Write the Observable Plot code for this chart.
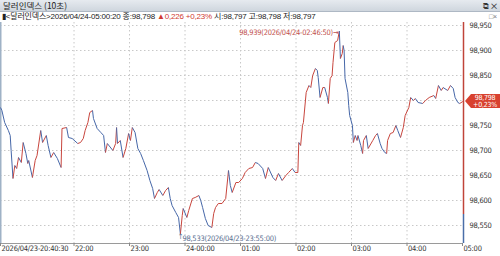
<!DOCTYPE html>
<html><head><meta charset="utf-8">
<script src="https://cdn.jsdelivr.net/npm/d3@7"></script>
<script src="https://cdn.jsdelivr.net/npm/@observablehq/plot@0.6"></script>
<style>
body{margin:0;width:500px;height:256px;overflow:hidden;background:#fff;font-family:"Noto Sans CJK KR","Liberation Sans",sans-serif;}
#title{height:11px;overflow:hidden;background:linear-gradient(#e6eaef,#cfd6de);border-bottom:1px solid #aeb8c4;font-size:8.5px;line-height:11px;padding-left:3px;color:#222;position:relative;}
#title .ic{position:absolute;right:3px;top:0;font-size:8px;line-height:11px;color:#333;}
#info{height:10px;overflow:hidden;font-size:8px;line-height:10px;padding-left:2px;white-space:nowrap;position:relative;color:#222;font-family:"Liberation Sans","Noto Sans CJK KR",sans-serif;letter-spacing:-0.2px;}
#info .up{color:#d03a30;}
#info .ic{position:absolute;right:3px;top:0;font-size:7px;line-height:10px;color:#777;}
#chart{height:234px;}
#chart svg text{letter-spacing:-0.25px;}
</style></head><body>
<div id="title">달러인덱스 (10초)<span class="ic">⧉ ✕</span></div>
<div id="info">▮&lt;달러인덱스&gt;2026/04/24-05:00:20 종:98,798 <span class="up">▲0,226 +0,23%</span> 시:98,797 고:98,798 저:98,797<span class="ic">□×</span></div>
<div id="chart"></div>
<script>
const times = ["20:40:30","20:42","20:45","20:49","20:51","20:52","20:54","20:56","20:58","21:00","21:03","21:05","21:08","21:10","21:11","21:15","21:18","21:20","21:24","21:26","21:30","21:32","21:35","21:38","21:42","21:46","21:47","21:52","21:54","21:58","22:04","22:07","22:10","22:12","22:15","22:17","22:20","22:21","22:25","22:29","22:32","22:34","22:36","22:42","22:45","22:46","22:47","22:50","22:53","22:56","22:59","23:01","23:03","23:06","23:09","23:12","23:15","23:19","23:22","23:25","23:27","23:30","23:32","23:36","23:39","23:42","23:44","23:46","23:50","23:53","23:55","23:57","23:58","00:02","00:04","00:08","00:11","00:15","00:17","00:19","00:22","00:25","00:29","00:31","00:33","00:36","00:40","00:44","00:47","00:49","00:51","00:55","00:58","01:02","01:05","01:09","01:13","01:16","01:19","01:24","01:27","01:30","01:35","01:38","01:41","01:45","01:49","01:52","01:56","01:59","02:02","02:03","02:05","02:07","02:08","02:11","02:14","02:16","02:18","02:21","02:23","02:24","02:26","02:29","02:31","02:34","02:35","02:37","02:39","02:40","02:42","02:45","02:46:50","02:48","02:50","02:51","02:52","02:53","02:56","02:57","02:58","03:01","03:02","03:04","03:06","03:07","03:10","03:12","03:13","03:16","03:18","03:23","03:26","03:28","03:31","03:33","03:36","03:38","03:39","03:42","03:45","03:48","03:50","03:53","03:56","03:58","04:02","04:04","04:07","04:09","04:12","04:17","04:20","04:24","04:29","04:31","04:34","04:37","04:39","04:44","04:47","04:50","04:52","04:55","04:57","05:00:20"];
const values = [98.786,98.780,98.756,98.740,98.730,98.700,98.644,98.670,98.664,98.686,98.676,98.716,98.694,98.674,98.680,98.646,98.680,98.690,98.740,98.716,98.730,98.710,98.686,98.696,98.684,98.666,98.744,98.746,98.726,98.724,98.714,98.716,98.724,98.740,98.756,98.776,98.780,98.764,98.744,98.736,98.730,98.696,98.714,98.700,98.714,98.746,98.714,98.720,98.686,98.704,98.734,98.720,98.746,98.736,98.704,98.694,98.680,98.660,98.640,98.624,98.604,98.616,98.622,98.610,98.620,98.626,98.604,98.590,98.576,98.566,98.533,98.570,98.584,98.566,98.580,98.604,98.606,98.610,98.600,98.586,98.564,98.550,98.546,98.574,98.586,98.594,98.594,98.604,98.660,98.630,98.616,98.636,98.636,98.644,98.656,98.664,98.666,98.676,98.674,98.664,98.644,98.666,98.646,98.640,98.654,98.640,98.650,98.656,98.664,98.656,98.656,98.716,98.710,98.750,98.756,98.816,98.830,98.826,98.850,98.864,98.860,98.846,98.806,98.826,98.826,98.806,98.794,98.844,98.850,98.876,98.916,98.920,98.939,98.884,98.894,98.910,98.900,98.844,98.816,98.790,98.770,98.750,98.716,98.730,98.720,98.730,98.710,98.694,98.720,98.730,98.704,98.720,98.730,98.734,98.714,98.704,98.696,98.694,98.720,98.734,98.736,98.750,98.740,98.726,98.746,98.770,98.786,98.806,98.800,98.804,98.796,98.794,98.800,98.806,98.810,98.804,98.830,98.820,98.826,98.820,98.830,98.824,98.806,98.796,98.794,98.798];
const yTicks = [98.55,98.60,98.65,98.70,98.75,98.80,98.85,98.90,98.95];
const yLabelTicks = [98.55,98.60,98.65,98.70,98.75,98.85,98.90,98.95]; // 98.80 sits under the price tag
const xTickTimes = ["20:40:30","22:00","23:00","00:00","01:00","02:00","03:00","04:00","05:00"];
const xTickLabels = ["2026/04/23-20:40:30","22:00","23:00","24-00:00","01:00","02:00","03:00","04:00","05:00"];
const prevClose = 98.572;
const lastLabel = ["98,798","+0,23%"];
const maxLabel = "98,939(2026/04/24-02:46:50)→";
const minLabel = "98,533(2026/04/23-23:55:00)";

const RED = "#c8463e", BLUE = "#4667a8";
function toDate(s){
  const p = s.split(":").map(Number);
  const h=p[0], m=p[1], sec=p[2]||0;
  return new Date(Date.UTC(2026,3,h>=20?23:24,h,m,sec));
}
const data = times.map((t,i)=>({t:toDate(t), v:values[i]}));
const pairs = d3.pairs(data);
const xTicks = xTickTimes.map(toDate);
const labelMap = new Map(xTicks.map((d,i)=>[+d, xTickLabels[i]]));
const xDomain = [toDate("20:40:30"), toDate("05:01:05")];
const yDomain = [98.514, 98.956];
const maxPt = data.reduce((a,b)=>b.v>a.v?b:a);
const minPt = data.reduce((a,b)=>b.v<a.v?b:a);
const fmt = d => d.toFixed(3).replace(".", ",");
const FONT = "'Liberation Sans Narrow','DejaVu Sans Condensed','Liberation Sans',sans-serif";

const chart = Plot.plot({
  width: 500, height: 234,
  marginLeft: 0, marginRight: 37, marginTop: 0, marginBottom: 13,
  style: {fontFamily: FONT, fontSize: "7.5px", background: "#fff", overflow: "visible"},
  x: {type: "utc", domain: xDomain, axis: null, label: null},
  y: {domain: yDomain, axis: null, label: null},
  marks: [
    Plot.gridY(yTicks, {stroke: "#c8c8c8", strokeOpacity: 1, strokeDasharray: "1.5,2.5"}),
    Plot.gridX(xTicks.slice(1, -1), {stroke: "#c8c8c8", strokeOpacity: 1, strokeDasharray: "1.5,2.5"}),
    Plot.ruleY([yDomain[0]], {stroke: "#9a9a9a"}),
    Plot.ruleX([xDomain[0]], {stroke: "#9fb2c6", strokeWidth: 2}),
    Plot.axisY(yLabelTicks, {anchor: "right", tickSize: 0, tickPadding: 6, tickFormat: fmt, fill: "#333", label: null}),
    Plot.axisX(xTicks, {anchor: "bottom", tickSize: 3, tickFormat: () => "", stroke: "#888", label: null}),
    Plot.text(xTicks, {x: d => d, text: d => labelMap.get(+d), frameAnchor: "bottom", dy: 5, dx: 1, textAnchor: "start", lineAnchor: "middle", fill: "#333"}),
    Plot.link(pairs, {x1: p => p[0].t, y1: p => p[0].v, x2: p => p[1].t, y2: p => p[1].v,
      stroke: p => p[1].v >= p[0].v ? RED : BLUE, strokeWidth: 1}),
    Plot.ruleX([xDomain[1]], {y1: prevClose, y2: yDomain[1], stroke: "#c0443a", strokeWidth: 1.5}),
    Plot.ruleX([xDomain[1]], {y1: yDomain[0], y2: prevClose, stroke: "#4a6ea8", strokeWidth: 1.5}),
    Plot.text([maxPt], {x: "t", y: "v", text: () => maxLabel, textAnchor: "end", dx: -1, dy: 2, fill: "#c0504d"}),
    Plot.text([minPt], {x: "t", y: "v", text: () => "↑", dy: 3, fill: "#5a6f90"}),
    Plot.text([minPt], {x: "t", y: "v", text: () => minLabel, textAnchor: "start", dx: 2, dy: 5, fill: "#5a6f90"})
  ]
});
document.getElementById("chart").appendChild(chart);

// current price tag on the right axis
const last = data[data.length - 1];
const yy = chart.scale("y").apply(last.v);
const xx = chart.scale("x").apply(xDomain[1]);
const svg = d3.select(chart);
const g = svg.append("g");
g.append("path")
  .attr("d", `M${xx+2},${yy} L${xx+8},${yy-7} L500,${yy-7} L500,${yy+7} L${xx+8},${yy+7} Z`)
  .attr("fill", "#d8412f");
g.append("text").attr("x", xx+22).attr("y", yy-1).attr("text-anchor","middle")
  .attr("fill","#fff").attr("font-size","7px").text(lastLabel[0]);
g.append("text").attr("x", xx+22).attr("y", yy+6).attr("text-anchor","middle")
  .attr("fill","#fff").attr("font-size","7px").text(lastLabel[1]);
</script>
</body></html>
